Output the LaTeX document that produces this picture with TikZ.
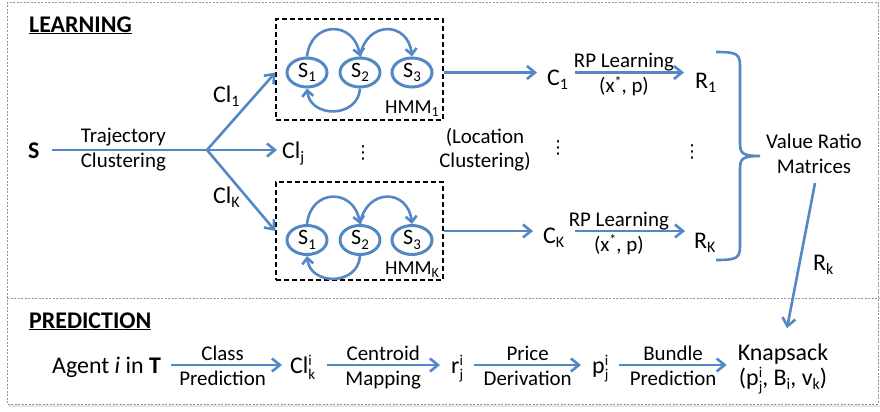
\documentclass[tikz,border=0pt]{standalone}
\usepackage{fontspec}
\setmainfont{Carlito}
\newfontfamily\dejavu{DejaVu Sans}
\usetikzlibrary{arrows.meta,shapes.geometric,calc}
\definecolor{myblue}{RGB}{84,136,196}
\newcommand\fmain{\fontsize{24}{28}\selectfont}
\newcommand\flab{\fontsize{21}{23}\selectfont}
\newcommand\mysub[2][16]{\raisebox{-.2em}{\fontsize{#1}{#1}\selectfont #2}}
\newcommand\mysup[2][15]{\raisebox{.3em}{\fontsize{#1}{#1}\selectfont #2}}
\newcommand\mysupsub[2]{\rlap{\mysup{#1}}\raisebox{-.27em}{\fontsize{15}{15}\selectfont #2}}
\begin{document}
\begin{tikzpicture}[x=1bp,y=1bp,
  outer/.style={draw=gray!85, line width=0.9bp, dash pattern=on 2bp off 1.5bp},
  hmmbox/.style={draw=black, line width=1.2bp, dash pattern=on 5bp off 3bp, inner sep=0},
  state/.style={ellipse, draw=myblue, line width=3bp, fill=white, minimum width=40bp, minimum height=29bp, inner sep=0, font=\fontsize{22}{22}\selectfont},
  arr/.style={draw=myblue, line width=2.6bp, -{Straight Barb[length=8bp,width=13bp]}},
  arc/.style={draw=myblue, line width=2.6bp, -{Straight Barb[length=6bp,width=11bp]}},
  plain/.style={draw=myblue, line width=2.6bp},
  txt/.style={inner sep=0, anchor=base west, font=\fmain},
  ctr/.style={inner sep=0, anchor=base, font=\fmain},
  lab/.style={inner sep=0, anchor=base, font=\flab},
  dots/.style={inner sep=0, font=\dejavu\fontsize{18}{18}\selectfont}]
\useasboundingbox (0,0) rectangle (880,411);
% frames
\draw[gray!20, line width=2bp] (9,5) -- (880,5);
\draw[outer] (7,409) rectangle (878,7);
\draw[outer] (7,113) -- (880,113);
% titles
\node[txt, font=\fmain\bfseries] (learn) at (29,379) {\underline{LEARNING}};
\node[txt, font=\fmain\bfseries] (pred) at (29,83) {\underline{PREDICTION}};
% learning
\node[txt, font=\fmain\bfseries] (S) at (28,253) {S};
\coordinate (br) at (207,261);
\draw[plain, shorten <=12bp] (S.east |- br) -- (br)
  node[lab, midway, yshift=8bp] {Trajectory}
  node[lab, midway, yshift=-17bp] {Clustering};
\node[txt] (cl1) at (213,309) {Cl\mysub{1}};
\node[txt] (clj) at (282,253) {Cl\mysub{j}};
\node[txt] (clK) at (213,208) {Cl\mysub{K}};
\node[dots] (d0) at (363,258.5) {⋮};
% HMM boxes
\node[hmmbox, minimum width=167bp, minimum height=101bp] (hmm1) at (359.5,341.5) {};
\node[hmmbox, minimum width=167bp, minimum height=98bp] (hmmK) at (359.5,180) {};
\node[state] (a1) at (307,338.5) {S\mysub[15]{1}};
\node[state] (a2) at (360,338.5) {S\mysub[15]{2}};
\node[state] (a3) at (412,338.5) {S\mysub[15]{3}};
\node[state] (b1) at (307,171) {S\mysub[15]{1}};
\node[state] (b2) at (360,171) {S\mysub[15]{2}};
\node[state] (b3) at (412,171) {S\mysub[15]{3}};
\foreach \p in {a,b}{
  \draw[arc] (\p1.north) .. controls ($(\p1.north)+(4,36)$) and ($(\p2.north)+(-6,36)$) .. (\p2.north);
  \draw[arc] (\p2.north) .. controls ($(\p2.north)+(6,36)$) and ($(\p3.north)+(-4,36)$) .. (\p3.north);
  \draw[arc] (\p2.south) .. controls ($(\p2.south)+(-2,-30)$) and ($(\p1.south)+(3,-30)$) .. (\p1.south);
}
\node[txt, font=\fontsize{20}{22}\selectfont] (h1l) at (385,298) {HMM\mysub[14]{1}};
\node[txt, font=\fontsize{20}{22}\selectfont] (hKl) at (385,137) {HMM\mysub[14]{K}};
\draw[arr] (br) -- (hmm1.west |- a1);
\draw[arr, shorten >=5bp] (br) -- (clj.west |- br);
\draw[arr] (br) -- (hmmK.west);
% C and R
\node[txt] (c1) at (547,326) {C\mysub{1}};
\node[txt] (r1) at (695,323) {R\mysub{1}};
\node[txt] (cK) at (543,168) {C\mysub{K}};
\node[txt] (rK) at (694,163) {R\mysub{K}};
\draw[arr, shorten >=10bp] (hmm1.east |- a1) -- (c1.west |- a1);
\draw[arr, shorten >=10bp] (hmmK.east) -- (cK.west |- hmmK.east);
\draw[arr, shorten <=7bp, shorten >=11bp] (c1.east |- a1) -- (r1.west |- a1)
  node[lab, pos=.44, yshift=5bp] {RP Learning}
  node[lab, pos=.44, yshift=-20bp] {(x\mysup[14]{*}, p)};
\draw[arr, shorten <=11bp, shorten >=9bp] (cK.east |- hmmK.east) -- (rK.west |- hmmK.east)
  node[lab, pos=.42, yshift=5bp] {RP Learning}
  node[lab, pos=.42, yshift=-20bp] {(x\mysup[14]{*}, p)};
\node[lab] (loc1) at (485,268) {(Location};
\node[lab] (loc2) at (485,244) {Clustering)};
\node[dots] (d1) at (558,263) {⋮};
\node[dots] (d2) at (692,259.5) {⋮};
% brace
\draw[plain] (716,359) .. controls (737,359) and (740,357) .. (740,345) -- (740,268)
  .. controls (740,258) and (742,255) .. (760,255)
  .. controls (742,255) and (740,252) .. (740,242) -- (740,165)
  .. controls (740,153) and (737,151) .. (716,151);
\node[lab] (vr) at (814,263) {Value Ratio};
\node[lab] (mat) at (814,238) {Matrices};
% prediction row
\coordinate (row) at (0,46);
\node[txt] (agent) at (52,38) {Agent \textit{i} in \textbf{T}};
\node[txt] (clik) at (290,38) {Cl\mysupsub{i}{k}};
\node[txt] (rij) at (451,38) {r\mysupsub{i}{j}};
\node[txt] (pij) at (592,38) {p\mysupsub{i}{j}};
\node[ctr] (knap) at (783,51) {Knapsack};
\node[ctr] (kargs) at (783,26) {(p\mysupsub{i}{j}, B\mysub{i}, v\mysub{k})};
\draw[arr, shorten <=10bp, shorten >=8bp] (agent.east |- row) -- (clik.west |- row)
  node[lab, midway, xshift=-3bp, yshift=5bp] {Class}
  node[lab, midway, xshift=-3bp, yshift=-20bp] {Prediction};
\draw[arr, shorten <=12bp, shorten >=11bp] (clik.east |- row) -- (rij.west |- row)
  node[lab, midway, yshift=5bp] {Centroid}
  node[lab, midway, yshift=-20bp] {Mapping};
\draw[arr, shorten <=11bp, shorten >=11bp] (rij.east |- row) -- (pij.west |- row)
  node[lab, midway, yshift=5bp] {Price}
  node[lab, midway, yshift=-20bp] {Derivation};
\draw[arr, shorten <=10bp, shorten >=11bp] (pij.east |- row) -- (knap.west |- row)
  node[lab, midway, yshift=5bp] {Bundle}
  node[lab, midway, yshift=-20bp] {Prediction};
\draw[arr] ($(mat.base)+(1,-10)$) -- ($(knap.north)+(4,15)$);
\node[txt] (rk) at (813,141) {R\mysub{k}};
\end{tikzpicture}
\end{document}
